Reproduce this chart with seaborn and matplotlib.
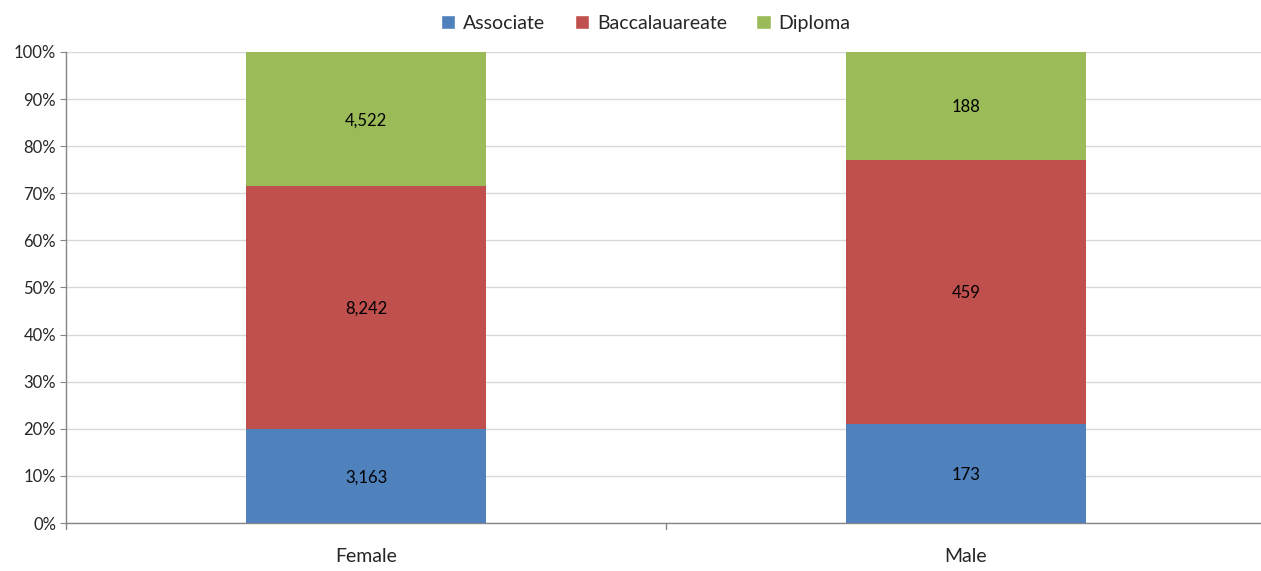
import matplotlib
matplotlib.use("Agg")
import matplotlib.pyplot as plt
import seaborn as sns
import pandas as pd
from matplotlib.patches import Patch

# data
genders = ["Female", "Male"]
associate = [3163, 173]
baccalaureate = [8242, 459]
diploma = [4522, 188]
series = ["Associate", "Baccalauareate", "Diploma"]
colors = ["#4F81BD", "#C0504D", "#9BBB59"]

df = pd.DataFrame({"gender": genders, "Associate": associate,
                   "Baccalauareate": baccalaureate, "Diploma": diploma})
total = df[series].sum(axis=1)
pct = df[series].div(total, axis=0) * 100
cum = pct.cumsum(axis=1)
cum["gender"] = df["gender"]

sns.set_style("white")
plt.rcParams["font.family"] = ["Lato", "DejaVu Sans"]

fig = plt.figure(figsize=(12.61, 5.71), dpi=100)
ax = fig.add_axes([0.0523, 0.084, 0.9516, 0.825])

# stacked bars: draw cumulative heights, top layer first
for s, c in zip(series[::-1], colors[::-1]):
    sns.barplot(data=cum, x="gender", y=s, color=c, width=0.40,
                saturation=1, ax=ax, zorder=3, edgecolor="none")

# value labels in the middle of each segment
for i in range(len(df)):
    low = 0
    for s in series:
        high = cum.loc[i, s]
        ax.text(i, (low + high) / 2, f"{df.loc[i, s]:,}", ha="center",
                va="center_baseline", fontsize=12, color="black", zorder=4)
        low = high

ax.set_xlim(-0.5, 1.5)
ax.set_ylim(0, 100)
ax.set_yticks(range(0, 101, 10))
ax.set_yticklabels([f"{v}%" for v in range(0, 101, 10)], fontsize=12)
ax.set_xticks([0, 1])
ax.set_xticklabels(genders, fontsize=14)
ax.tick_params(axis="x", length=0, pad=18)
ax.tick_params(axis="y", length=4, color="#868686", left=True, pad=3)
ax.set_xlabel("")
ax.set_ylabel("")
ax.yaxis.grid(True, color="#D9D9D9", linewidth=1, zorder=0)
ax.set_axisbelow(True)

# boundary ticks on the x axis
for xb in [-0.5, 0.5]:
    ax.plot([xb, xb], [0, -1.3], color="#868686", lw=1, clip_on=False)

for side in ["top", "right"]:
    ax.spines[side].set_visible(False)
for side in ["left", "bottom"]:
    ax.spines[side].set_color("#868686")
    ax.spines[side].set_linewidth(1)

handles = [Patch(facecolor=c, label=s) for s, c in zip(series, colors)]
fig.legend(handles=handles, loc="upper center", bbox_to_anchor=(0.512, 1.005),
           ncol=3, frameon=False, fontsize=14, handlelength=0.75,
           handleheight=0.75, handletextpad=0.4, columnspacing=1.5)

fig.savefig("out.png", dpi=100)
